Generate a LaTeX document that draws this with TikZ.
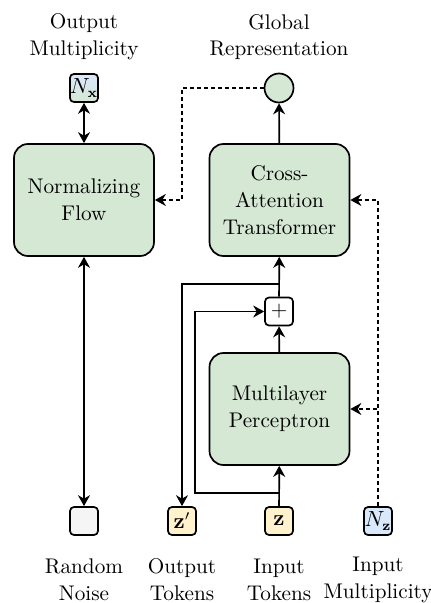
\documentclass[tikz,border=0pt]{standalone}
\usetikzlibrary{arrows.meta,calc}
\definecolor{blockgreen}{HTML}{D5E8D4}
\definecolor{tokyellow}{HTML}{FFF2CC}
\definecolor{multblue}{HTML}{DAE8FC}
\definecolor{noisegray}{HTML}{F5F5F5}

\begin{document}
\begin{tikzpicture}[x=0.5pt, y=-0.5pt,
  font=\rmfamily\fontsize{10.6}{13.4}\selectfont,
  line width=0.85pt,
  >={Stealth[length=5.5pt,width=6pt,inset=1.8pt]},
  block/.style={draw, rounded corners=7pt, fill=blockgreen,
    minimum width=70pt, minimum height=56pt, align=center, inner sep=0pt},
  tok/.style={draw, rounded corners=2pt, minimum size=14pt, inner sep=0pt},
  caption/.style={align=center, inner sep=0pt},
  flow/.style={->},
  cond/.style={->, dash pattern=on 2pt off 1.5pt}]

\useasboundingbox (0,0) rectangle (431,603);

% main blocks
\node[block] (nf)  at (84,200)    {Normalizing\\Flow};
\node[block] (cat) at (279.5,200) {Cross-\\Attention\\Transformer};
\node[block] (mlp) at (279.5,409) {Multilayer\\Perceptron};

% global representation
\node[circle, draw, fill=blockgreen, minimum size=14.5pt, inner sep=0pt] (glob) at (279,88) {};

% small token boxes
\node[tok, top color=multblue, bottom color=blockgreen] (nx) at (84,88) {$N_{\mathbf{x}}$};
\node[tok, fill=white] (plus) at (279,311.5) {+};
\node[tok, fill=noisegray] (noise) at (84,521) {};
\node[tok, fill=tokyellow] (zp) at (182,521) {$\mathbf{z}'$};
\node[tok, fill=tokyellow] (z)  at (279,521) {$\mathbf{z}$};
\node[tok, fill=multblue] (nz) at (378,521) {$N_{\mathbf{z}}$};

% captions
\node[caption] (lblout)   at (84,37)  {Output\\Multiplicity};
\node[caption] (lblglob)  at (279,37) {Global\\Representation};
\node[caption] (lblnoise) at (84,580) {Random\\Noise};
\node[caption] (lblzp)    at (182,580) {Output\\Tokens};
\node[caption] (lblz)     at (279,580) {Input\\Tokens};
\node[caption] (lblnz)    at (378,580) {Input\\Multiplicity};

% solid connectors
\draw[<->] (nx) -- (nf);
\draw[<->] (nf) -- (noise);
\draw[flow] (cat) -- (glob);
\draw[flow] (z) -- (mlp);
\draw[flow] (mlp) -- (plus);
\draw[flow] (plus) -- (cat);

% residual skip around the perceptron
\coordinate (skipfrom) at (279,493);
\coordinate (skipturn) at (195,493);
\draw[flow] (skipfrom) -- (skipturn) |- (plus.west);

% output tokens tapped before the transformer
\coordinate (outfrom) at (279,284);
\draw[flow] (outfrom) -| (zp.north);

% conditioning (dashed)
\coordinate (nfin) at (zp |- nf.east);
\draw[cond] (glob.west) -| (nfin) -- (nf.east);
\draw[cond] (nz.north) |- (cat.east);
\draw[cond] (nz.north) |- (mlp.east);
\end{tikzpicture}
\end{document}
